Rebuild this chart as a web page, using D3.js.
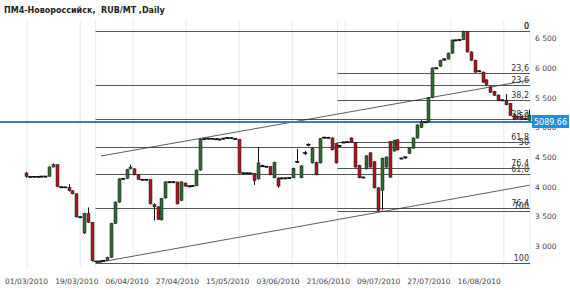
<!DOCTYPE html>
<html lang="ru">
<head>
<meta charset="UTF-8">
<title>ПМ4-Новороссийск, RUB/MT, Daily</title>
<style>
  body { margin: 0; background: #fff; font-family: "DejaVu Sans", Verdana, sans-serif; }
  svg { display: block; }
  .title { white-space: pre; }
</style>
</head>
<body>
<svg width="570" height="290"></svg>
<script src="https://d3js.org/d3.v7.min.js"></script>
<script>
let width = 570, height = 290;
let plot = {top: 20, bottom: 268, right: 530};

// x axis labels, one every 13 bars
let dateLabels = ["01/03/2010", "19/03/2010", "06/04/2010", "27/04/2010", "15/05/2010",
                  "03/06/2010", "21/06/2010", "09/07/2010", "27/07/2010", "16/08/2010"];
let labelStep = 13;
// vertical grid positions (bar index)
let gridIdx = [0.3, 14, 27.7, 41.4, 55.1, 68.8, 82.5, 96.2, 109.8, 123.5];
let priceTicks = [3000, 3500, 4000, 4500, 5000, 5500, 6000, 6500];

// daily OHLC
let opens = [4230,4170,4165,4170,4170,4175,4175,4330,4370,3995,3995,3990,3930,3880,3490,3220,3550,3400,2745,2740,
  2745,2755,2810,3380,3740,4130,4140,4300,4300,4200,4120,4120,4120,3700,3660,3440,3810,4080,4080,4080,
  3770,4060,4010,4010,4015,4280,4800,4805,4815,4810,4795,4800,4815,4825,4815,4800,4230,4230,4230,4225,
  4130,4360,4340,4340,4150,4140,4145,4145,4145,4150,4410,4150,4570,4690,4400,4410,4400,4820,4830,4820,
  4730,4690,4750,4750,4820,4740,4360,4160,4300,4570,4420,3980,3940,4330,4760,4600,4790,4480,4480,4560,
  4650,4820,5000,5090,5090,5500,6000,6030,6130,6150,6250,6470,6470,6475,6620,6270,6130,5950,5930,5800,
  5680,5600,5545,5460,5460,5400,5210,5150,5180,5150,5120];
let closes = [4170,4165,4170,4170,4175,4175,4330,4370,4000,3995,3990,3930,3880,3490,3490,3550,3400,2750,2740,2745,
  2755,2810,3380,3740,4130,4135,4290,4330,4200,4120,4120,4120,3710,3660,3450,3800,4080,4080,4080,3710,
  4080,4010,4010,4015,4280,4800,4805,4815,4810,4795,4800,4815,4825,4815,4800,4230,4230,4230,4225,4100,
  4400,4340,4340,4200,4410,4010,4145,4145,4150,4310,4420,4350,4570,4710,4650,4200,4810,4830,4825,4620,
  4400,4690,4750,4755,4750,4330,4150,4160,4520,4330,3980,3600,4480,4500,4160,4780,4620,4480,4500,4650,
  4820,5040,5090,5090,5500,6000,6000,6130,6150,6250,6470,6470,6475,6620,6270,6130,5930,5950,5760,5720,
  5590,5540,5450,5460,5380,5200,5130,5180,5130,5140,5200];
let highs = [4245,4170,4175,4175,4180,4180,4340,4390,4370,4000,3995,4040,3940,3880,3495,3560,3650,3400,2750,2750,
  2760,2820,3390,3750,4140,4140,4300,4370,4310,4210,4125,4125,4120,3720,3670,3810,4090,4085,4085,4080,
  4090,4070,4015,4020,4290,4810,4815,4820,4820,4815,4805,4820,4830,4830,4820,4800,4235,4235,4235,4230,
  4670,4370,4345,4345,4420,4160,4150,4150,4155,4320,4640,4360,4600,4730,4660,4420,4820,4840,4840,4830,
  4740,4700,4755,4760,4830,4750,4370,4165,4530,4580,4420,3990,4490,4510,4770,4790,4800,4485,4505,4660,
  4830,5050,5120,5095,5510,6010,6005,6140,6160,6260,6480,6475,6480,6628,6620,6280,6140,5955,5940,5810,
  5690,5610,5550,5465,5560,5410,5220,5190,5190,5160,5300];
let lows = [4150,4160,4165,4165,4170,4170,4170,4330,3990,3990,3985,3920,3870,3480,3485,3200,3390,2740,2719,2735,
  2740,2750,2800,3370,3730,4125,4135,4290,4190,4115,4115,4115,3700,3430,3440,3430,3800,4075,4075,3700,
  3760,4000,4005,4005,4010,4270,4795,4800,4805,4790,4790,4795,4810,4810,4795,4220,4225,4225,4220,4030,
  4120,4330,4335,4190,4140,3980,4140,4140,4140,4145,4400,4140,4530,4680,4390,4190,4390,4815,4820,4610,
  4390,4680,4745,4745,4740,4320,4140,4155,4290,4320,3970,3593,3600,4320,4150,4590,4610,4475,4475,4550,
  4640,4810,4990,5085,5085,5490,5995,6020,6125,6145,6240,6465,6465,6470,6260,6120,5920,5945,5750,5700,
  5580,5530,5440,5455,5370,5190,5120,5140,5120,5130,5110];

let lastPrice = 5089.66;

// fibonacci retracements: start bar, low, high
let fibLevels = [0, 23.6, 38.2, 50, 61.8, 76.4, 100];
let fibSets = [
  {from: 18, low: 2719, high: 6628},
  {from: 80.5, low: 3593, high: 6628}
];
// channel lines [bar, price]
let trendLines = [
  [[19.4, 4517], [130.2, 5797]],
  [[18.3, 2719], [130.2, 4025]]
];

let svg = d3.select("svg").attr("viewBox", "0 0 " + width + " " + height);

let x = d3.scaleLinear().domain([0, opens.length - 1]).range([26, 529]);
let y = d3.scaleLinear().domain([3000, 6500]).range([246, 38.3]);
let step = x(1) - x(0);

// title
svg.append("text")
    .attr("class", "title")
    .attr("x", 4).attr("y", 13)
    .attr("font-size", 8).attr("font-weight", "bold")
    .attr("fill", "#222")
    .text("ПМ4-Новороссийск,  RUB/MT ,Daily");

// vertical grid
svg.append("g")
    .selectAll("line")
    .data(gridIdx)
    .enter().append("line")
    .attr("x1", d => x(d)).attr("x2", d => x(d))
    .attr("y1", plot.top).attr("y2", plot.bottom)
    .attr("stroke", "#e2eaf1");

// faint markers where the fib sets begin
svg.append("g")
    .selectAll("line")
    .data(fibSets)
    .enter().append("line")
    .attr("x1", d => x(d.from)).attr("x2", d => x(d.from))
    .attr("y1", plot.top).attr("y2", plot.bottom)
    .attr("stroke", "#e2eaf1");

svg.append("line")
    .attr("x1", plot.right).attr("x2", plot.right)
    .attr("y1", plot.top).attr("y2", plot.bottom)
    .attr("stroke", "#e8eef3");

// fibonacci lines and labels
let fibG = svg.append("g");
fibSets.forEach(s => {
  fibLevels.forEach(p => {
    let v = s.high - (s.high - s.low) * p / 100;
    fibG.append("line")
        .attr("x1", x(s.from)).attr("x2", plot.right)
        .attr("y1", Math.round(y(v)) + 0.5).attr("y2", Math.round(y(v)) + 0.5)
        .attr("stroke", "#555").attr("stroke-width", 1);
    fibG.append("text")
        .attr("x", plot.right - 1).attr("y", Math.round(y(v)) - 2)
        .attr("text-anchor", "end")
        .attr("font-size", 8).attr("fill", "#333")
        .text(String(p).replace(".", ","));
  });
});

// channel lines
svg.append("g")
    .selectAll("line")
    .data(trendLines)
    .enter().append("line")
    .attr("x1", d => x(d[0][0])).attr("y1", d => y(d[0][1]))
    .attr("x2", d => x(d[1][0])).attr("y2", d => y(d[1][1]))
    .attr("stroke", "#333").attr("stroke-width", 0.8);

// last price line
svg.append("line")
    .attr("x1", 0).attr("x2", 532)
    .attr("y1", y(lastPrice)).attr("y2", y(lastPrice))
    .attr("stroke", "#3a7fb4").attr("stroke-width", 2);

// candles
let bars = opens.map((o, i) => ({i: i, o: o, c: closes[i], h: highs[i], l: lows[i]}));
let candleG = svg.append("g");

candleG.selectAll("line.wick")
    .data(bars)
    .enter().append("line")
    .attr("class", "wick")
    .attr("x1", d => Math.round(x(d.i)) + 0.5).attr("x2", d => Math.round(x(d.i)) + 0.5)
    .attr("y1", d => y(d.h)).attr("y2", d => y(d.l))
    .attr("stroke", "#111").attr("stroke-width", 1);

candleG.selectAll("rect.body")
    .data(bars)
    .enter().append("rect")
    .attr("class", "body")
    .attr("x", d => Math.round(x(d.i)) - 1)
    .attr("width", 3)
    .attr("y", d => y(Math.max(d.o, d.c)))
    .attr("height", d => Math.max(1, Math.abs(y(d.o) - y(d.c))))
    .attr("fill", d => Math.abs(y(d.o) - y(d.c)) < 1.5 ? "#111" : (d.c > d.o ? "#2e6b30" : "#a8181c"))
    .attr("stroke", "#1a1a1a").attr("stroke-width", 0.5);

// flat bars read as a black step
candleG.selectAll("line.flat")
    .data(bars.filter(d => Math.abs(y(d.o) - y(d.c)) < 1.5))
    .enter().append("line")
    .attr("class", "flat")
    .attr("x1", d => x(d.i) - step / 2).attr("x2", d => x(d.i) + step / 2)
    .attr("y1", d => y(d.c)).attr("y2", d => y(d.c))
    .attr("stroke", "#111").attr("stroke-width", 1.2);

// right axis
let yAxis = d3.axisRight(y)
    .tickValues(priceTicks)
    .tickSize(0).tickPadding(0)
    .tickFormat(d => d3.format(",")(d).replace(",", " "));
let yg = svg.append("g").attr("transform", "translate(535,0)").call(yAxis);
yg.select(".domain").remove();
yg.selectAll("text").attr("font-size", 7.5).attr("fill", "#444")
    .attr("font-family", "DejaVu Sans, Verdana, sans-serif");

// bottom axis
let xAxis = d3.axisBottom(x)
    .tickValues(dateLabels.map((d, i) => i * labelStep))
    .tickSize(0).tickPadding(3)
    .tickFormat((d, i) => dateLabels[i]);
let xg = svg.append("g").attr("transform", "translate(0,276)").call(xAxis);
xg.select(".domain").remove();
xg.selectAll("text").attr("font-size", 7.5).attr("fill", "#444")
    .attr("font-family", "DejaVu Sans, Verdana, sans-serif");

// last price tag
svg.append("rect")
    .attr("x", 532).attr("y", y(lastPrice) - 7)
    .attr("width", 37).attr("height", 13)
    .attr("fill", "#1f8fdc");
svg.append("text")
    .attr("x", 550.5).attr("y", y(lastPrice) + 3)
    .attr("text-anchor", "middle")
    .attr("font-size", 8).attr("fill", "#fff")
    .text(lastPrice.toFixed(2));
</script>
</body>
</html>
